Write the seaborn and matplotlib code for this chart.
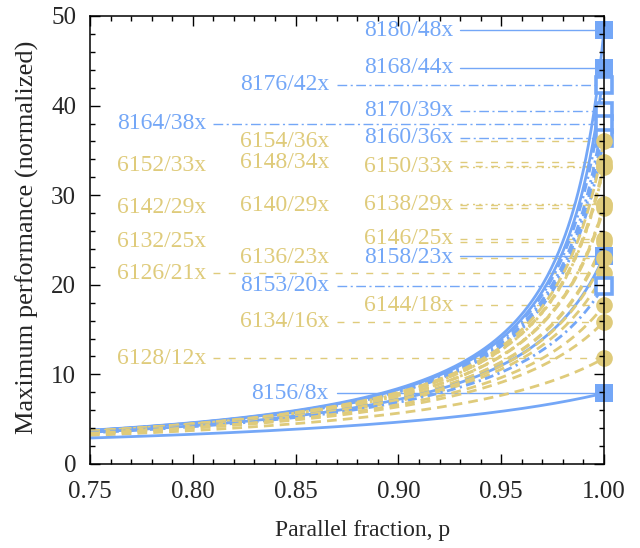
import numpy as np
import pandas as pd
import matplotlib
matplotlib.use("Agg")
import matplotlib.pyplot as plt
import seaborn as sns

# ---------------- data ----------------
names = ["8180", "8168", "8176", "8170", "8164", "8160", "6154", "6148", "6152", "6150",
         "6138", "6140", "6142", "6146", "6132", "8158", "6136", "6126", "8153", "6144",
         "6134", "6128", "8156"]
speedup_labels = [48, 44, 42, 39, 38, 36, 36, 34, 33, 33,
                  29, 29, 29, 25, 25, 23, 23, 21, 20, 18,
                  16, 12, 8]
max_perf = [48.4, 44.2, 42.3, 39.4, 38.0, 36.4, 36.0, 33.7, 33.3, 33.2,
            29.0, 28.9, 28.6, 25.1, 24.8, 23.2, 23.0, 21.3, 19.9, 17.7,
            15.9, 11.8, 7.9]
x_ticks = [0.75, 0.80, 0.85, 0.90, 0.95, 1.00]
x_tick_labels = ["0.75", "0.80", "0.85", "0.90", "0.95", "1.00"]
y_ticks = [0, 10, 20, 30, 40, 50]
x_label = "Parallel fraction, p"
y_label = "Maximum performance (normalized)"

# ---------------- styles / layout ----------------
BLUE = "#74a7f7"
GOLD = "#dfcb7b"
kind = {"8180": "S", "8168": "S", "8158": "S", "8156": "S",
        "8176": "D", "8170": "D", "8164": "D", "8160": "D", "8153": "D",
        "6150": "o", "6138": "o"}
column = {"8180": "R", "8168": "R", "8176": "M", "8170": "R", "8164": "L", "8160": "R",
          "6154": "M", "6148": "M", "6152": "L", "6150": "R", "6138": "R", "6140": "M",
          "6142": "L", "6146": "R", "6132": "L", "8158": "R", "6136": "M", "6126": "L",
          "8153": "M", "6144": "R", "6134": "M", "6128": "L", "8156": "M"}
label_nudge = {"8158": -0.15, "6146": 0.1}
hidden_line = {"6154", "6148", "6152", "6140", "6142", "6132", "6136"}
text_right = {"L": 0.8064, "M": 0.8662, "R": 0.9266}
line_start = {"L": 0.8098, "M": 0.8701, "R": 0.9300}

sns.set_style("ticks")
plt.rcParams["font.family"] = ["Liberation Serif", "DejaVu Serif"]
plt.rcParams["axes.linewidth"] = 1.1

fig = plt.figure(figsize=(6.4, 5.48), dpi=100)
ax = fig.add_axes([90 / 640, 1 - 464 / 548, 514 / 640, 448 / 548])

p = np.linspace(x_ticks[0], x_ticks[-1], 400)
frames = []
for n, v in zip(names, max_perf):
    frames.append(pd.DataFrame({"p": p, "perf": 1.0 / ((1.0 - p) + p / v), "cpu": n}))
df = pd.concat(frames, ignore_index=True)

for n, v, s in zip(names, max_perf, speedup_labels):
    k = kind.get(n, "g")
    color = BLUE if n.startswith("8") else GOLD
    if k == "S":
        curve_ls, hl_ls = "-", "-"
    elif k == "D":
        curve_ls, hl_ls = (0, (3.2, 1.6, 0.8, 1.6)), (0, (7, 2.5, 1.5, 2.5))
    elif k == "o":
        curve_ls, hl_ls = (0, (1.0, 1.6)), (0, (1.5, 3.0))
    else:
        curve_ls, hl_ls = (0, (3.5, 2.2)), (0, (5, 6))
    sub = df[df["cpu"] == n]
    sns.lineplot(data=sub, x="p", y="perf", ax=ax, color=color, linewidth=2.0,
                 linestyle=curve_ls, zorder=2.2)
    col = column[n]
    x0 = line_start["R"] if n in hidden_line else line_start[col]
    ax.plot([x0, 1.0], [v, v], color=color, linewidth=1.0, linestyle=hl_ls,
            zorder=1.5, clip_on=False)
    ax.text(text_right[col], v + label_nudge.get(n, 0.0), f"{n}/{s}x", color=color,
            fontsize=17, ha="right", va="center", zorder=3)
    if k == "S":
        ax.plot([1.0], [v], marker="s", markersize=13, color=color, markeredgewidth=0,
                clip_on=False, zorder=5)
    elif k == "D":
        ax.plot([1.0], [v], marker="s", markersize=12, markerfacecolor="white",
                markeredgecolor=color, markeredgewidth=2.6, clip_on=False, zorder=5)
    else:
        ax.plot([1.0], [v], marker="o", markersize=12, color=color, markeredgewidth=0,
                clip_on=False, zorder=5)

ax.set_xlim(x_ticks[0], x_ticks[-1])
ax.set_ylim(y_ticks[0], y_ticks[-1])
ax.set_xticks(x_ticks)
ax.set_xticklabels(x_tick_labels)
ax.set_yticks(y_ticks)
ax.set_xticks(np.arange(0.75, 1.0001, 0.01), minor=True)
ax.set_yticks(np.arange(0, 50.001, 2), minor=True)
ax.tick_params(which="both", direction="in", top=True, right=True, width=1.0, color="black")
ax.tick_params(which="major", length=7, labelsize=18)
ax.tick_params(which="minor", length=3.5)
ax.tick_params(axis="x", which="major", pad=12)
ax.tick_params(axis="y", which="major", pad=10)
ax.set_xlabel(x_label, fontsize=17)
ax.set_ylabel(y_label, fontsize=19)
ax.xaxis.set_label_coords(0.53, -0.125)
ax.yaxis.set_label_coords(-0.1, 0.505)
for sp in ax.spines.values():
    sp.set_visible(True)
    sp.set_zorder(10)
    sp.set_color("black")
ax.set_axisbelow(False)
ax.xaxis.set_zorder(11)
ax.yaxis.set_zorder(11)

fig.savefig("out.png", dpi=100)
